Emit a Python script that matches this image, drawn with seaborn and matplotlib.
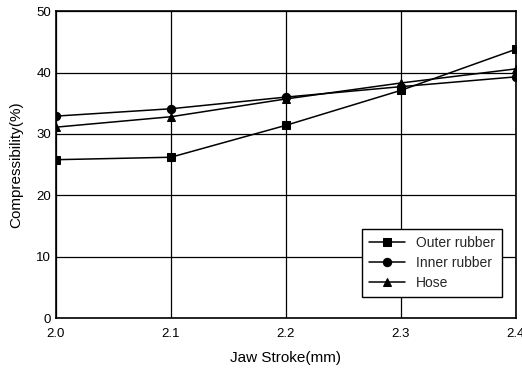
import matplotlib
matplotlib.use("Agg")
import matplotlib.pyplot as plt
import seaborn as sns
import pandas as pd
from matplotlib.ticker import MultipleLocator

stroke = [2.0, 2.1, 2.2, 2.3, 2.4]
outer_rubber = [25.8, 26.2, 31.4, 37.1, 43.8]
inner_rubber = [32.9, 34.1, 36.0, 37.7, 39.3]
hose = [31.1, 32.8, 35.7, 38.3, 40.6]
series_names = ["Outer rubber", "Inner rubber", "Hose"]
markers = ["s", "o", "^"]

sns.set_theme(style="white")
plt.rcParams['font.family'] = ['Liberation Sans', 'DejaVu Sans']

rows = []
for name, vals in zip(series_names, [outer_rubber, inner_rubber, hose]):
    for x, v in zip(stroke, vals):
        rows.append({"stroke": x, "value": v, "series": name})
df = pd.DataFrame(rows)

fig = plt.figure(figsize=(5.22, 3.72), dpi=100)
ax = fig.add_axes([0.107, 0.145, 0.8815, 0.825])

sns.lineplot(data=df, x="stroke", y="value", hue="series", style="series",
             markers=dict(zip(series_names, markers)), dashes=False,
             palette=["black"] * 3, hue_order=series_names, style_order=series_names,
             markersize=6, linewidth=1.1, markeredgecolor="black", ax=ax)

ax.set_xlim(2.0, 2.4)
ax.set_ylim(0, 50)
ax.xaxis.set_minor_locator(MultipleLocator(0.05))
ax.yaxis.set_major_locator(MultipleLocator(10))
ax.yaxis.set_minor_locator(MultipleLocator(5))
ax.set_xticks(stroke)
ax.set_xticklabels([f"{s:.1f}" for s in stroke])
ax.grid(True, which="major", color="black", linewidth=0.9)
ax.tick_params(which="both", direction="in", colors="black", labelsize=9.5)
ax.tick_params(which="major", length=4, width=1)
ax.tick_params(which="minor", length=3, width=1)
ax.tick_params(axis="x", which="major", pad=7)
for s in ax.spines.values():
    s.set_color("black")
    s.set_linewidth(1.2)

ax.set_xlabel("Jaw Stroke(mm)", fontsize=11, color="black", labelpad=8)
ax.set_ylabel("Compressibility(%)", fontsize=11, color="black", labelpad=9)

leg = ax.legend(loc="lower right", bbox_to_anchor=(0.97, 0.068), frameon=True,
                fancybox=False, edgecolor="black", fontsize=10, handlelength=2.6,
                borderpad=0.5, labelspacing=0.45, borderaxespad=0)
leg.get_frame().set_linewidth(1.0)
leg.get_frame().set_alpha(1)

fig.savefig("out.png", dpi=100)
